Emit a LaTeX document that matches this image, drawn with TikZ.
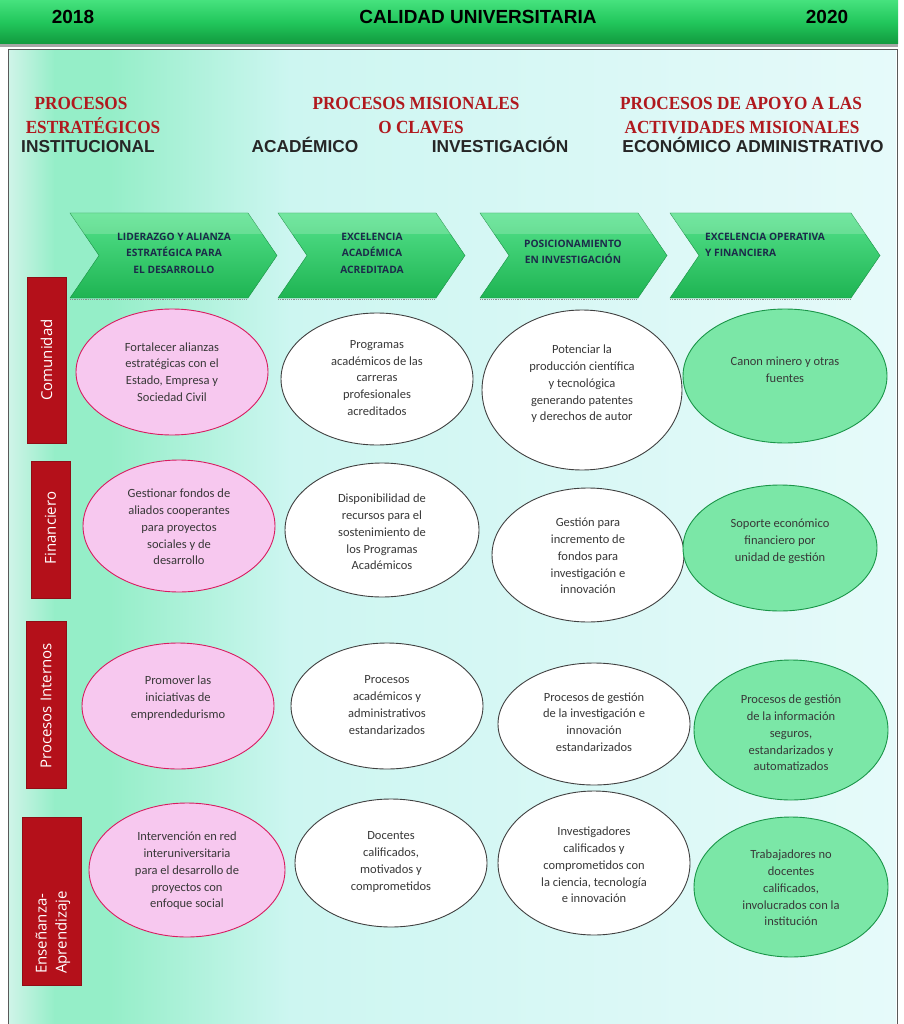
\documentclass[tikz,border=0pt]{standalone}
\usepackage{fontspec}
\setmainfont{Carlito}
\newfontfamily\hdrf{Liberation Sans}
\newfontfamily\redf[FakeStretch=0.93]{Liberation Serif}
\newfontfamily\barf{Open Sans}
\usetikzlibrary{shapes.geometric}
\definecolor{hdrTop}{HTML}{46E27E}
\definecolor{hdrMid}{HTML}{22C75C}
\definecolor{hdrBot}{HTML}{119A3E}
\definecolor{redhead}{HTML}{B0191E}
\definecolor{barred}{HTML}{B4101A}
\definecolor{pinkfill}{HTML}{F7C8EF}
\definecolor{pinkdraw}{HTML}{D81B60}
\definecolor{greenfill}{HTML}{7BE7A7}
\definecolor{greendraw}{HTML}{1A9548}
\definecolor{chevtop}{HTML}{55E28C}
\definecolor{chevbot}{HTML}{1EB452}
\definecolor{chevtext}{HTML}{1C2B4A}
\definecolor{bgA}{HTML}{CFF4E8}
\definecolor{bgB}{HTML}{95EEC8}
\definecolor{bgC}{HTML}{CDF6F1}
\definecolor{bgD}{HTML}{E6FAFA}
\tikzset{
  hdrtext/.style={font=\hdrf\bfseries\fontsize{19}{22}\selectfont, anchor=base, inner sep=0},
  redtext/.style={font=\redf\bfseries\fontsize{18.5}{22}\selectfont, text=redhead, anchor=base, inner sep=0},
  areatext/.style={font=\hdrf\bfseries\fontsize{17.3}{20}\selectfont, text=black!85, anchor=base, inner sep=0},
  chevshape/.style={top color=chevtop, bottom color=chevbot, draw=chevbot!80!black, line width=0.4},
  chevtextst/.style={font=\barf\bfseries\fontsize{10.2}{16.5}\selectfont, text=chevtext, align=center, inner sep=0},
  redbar/.style={fill=barred, draw=barred!80!black, line width=0.4},
  bartext/.style={font=\barf\fontsize{15}{20}\selectfont, text=white, rotate=90, inner sep=0},
  ell/.style={ellipse, inner sep=0, line width=0.9},
  pinkell/.style={ell, fill=pinkfill, draw=pinkdraw},
  whiteell/.style={ell, fill=white, draw=black!75},
  greenell/.style={ell, fill=greenfill, draw=greendraw},
  etext/.style={font=\fontsize{12.5}{16.8}\selectfont, text=black!78, align=center, inner sep=0},
}
\begin{document}
\begin{tikzpicture}[x=1pt, y=-1pt]
\useasboundingbox (0,0) rectangle (903,1024);
% background
\fill[white] (0,0) rectangle (903,1024);
\shade[left color=bgA, right color=bgB] (9,50) rectangle (55,1024);
\shade[left color=bgB, right color=bgB] (54.5,50) rectangle (110.5,1024);
\shade[left color=bgB, right color=bgC] (110,50) rectangle (290,1024);
\shade[left color=bgC, right color=bgD] (290,50) rectangle (896,1024);
\draw[black!65, line width=1] (8,1030) -- (8,50) -- (897,50) -- (897,1030);
% header bar
\shade[top color=hdrTop, bottom color=hdrBot, middle color=hdrMid] (0,0) rectangle (898,44);
\fill[black!35] (0,44) rectangle (898,47);
\node[hdrtext] (y1) at (73,24) {2018};
\node[hdrtext] (title) at (478,24) {CALIDAD UNIVERSITARIA};
\node[hdrtext] (y2) at (827,24) {2020};
% red headings
\node[redtext] (h1a) at (81,110) {PROCESOS};
\node[redtext] (h1b) at (93,134) {ESTRATÉGICOS};
\node[redtext] (h2a) at (416,110) {PROCESOS MISIONALES};
\node[redtext] (h2b) at (421,134) {O CLAVES};
\node[redtext] (h3a) at (741,110) {PROCESOS DE APOYO A LAS};
\node[redtext] (h3b) at (742,134) {ACTIVIDADES MISIONALES};
% area labels
\node[areatext] (a1) at (88,153) {INSTITUCIONAL};
\node[areatext] (a2) at (305,153) {ACADÉMICO};
\node[areatext] (a3) at (500,153) {INVESTIGACIÓN};
\node[areatext] (a4) at (753,153) {ECONÓMICO ADMINISTRATIVO};
% chevrons
\foreach \L/\R in {70/277, 278/465, 480/667, 670/880}{
  \draw[chevshape] (\L,213) -- ({\R-29},213) -- (\R,255.5) -- ({\R-29},298) -- (\L,298) -- ({\L+29},255.5) -- cycle;
  \fill[white, opacity=0.18] (\L,213) -- ({\R-29},213) -- ({\R-14},234) -- ({\L+14},234) -- cycle;
  \draw[black!45, densely dotted, line width=1.2] (\L,299.5) -- ({\R-29},299.5);
}
\node[chevtextst] (c1) at (174,253) {LIDERAZGO Y ALIANZA\\ESTRATÉGICA PARA\\EL DESARROLLO};
\node[chevtextst] (c2) at (372,253) {EXCELENCIA\\ACADÉMICA\\ACREDITADA};
\node[chevtextst] (c3) at (573,252) {POSICIONAMIENTO\\EN INVESTIGACIÓN};
\node[chevtextst, align=left, anchor=west] (c4) at (705,245) {EXCELENCIA OPERATIVA\\Y FINANCIERA};
% red bars
\draw[redbar] (27,277) rectangle (66,443);
\draw[redbar] (31,461) rectangle (70,598);
\draw[redbar] (26,621) rectangle (66,788);
\draw[redbar] (22,817) rectangle (81,985);
\node[bartext] (b1) at (46.5,360) {Comunidad};
\node[bartext] (b2) at (50.5,528) {Financiero};
\node[bartext] (b3) at (46,706) {Procesos Internos};
\node[bartext, align=left, anchor=west] (b4) at (53,974) {Enseñanza-\\Aprendizaje};
% ellipses column 1
\node[pinkell, minimum width=192, minimum height=126] (e11) at (172,372) {};
\node[pinkell, minimum width=192, minimum height=132] (e12) at (179,526) {};
\node[pinkell, minimum width=192, minimum height=126] (e13) at (178,706) {};
\node[pinkell, minimum width=196, minimum height=134] (e14) at (187,870) {};
% column 2
\node[whiteell, minimum width=192, minimum height=132] (e21) at (377,379) {};
\node[whiteell, minimum width=194, minimum height=134] (e22) at (382,530) {};
\node[whiteell, minimum width=192, minimum height=126] (e23) at (387,706) {};
\node[whiteell, minimum width=192, minimum height=128] (e24) at (391,863) {};
% column 3
\node[whiteell, minimum width=200, minimum height=160] (e31) at (582,390) {};
\node[whiteell, minimum width=192, minimum height=134] (e32) at (588,555) {};
\node[whiteell, minimum width=192, minimum height=122] (e33) at (594,724) {};
\node[whiteell, minimum width=192, minimum height=144] (e34) at (594,863) {};
% column 4
\node[greenell, minimum width=204, minimum height=134] (e41) at (785,376) {};
\node[greenell, minimum width=194, minimum height=126] (e42) at (780,548) {};
\node[greenell, minimum width=194, minimum height=140] (e43) at (791,730) {};
\node[greenell, minimum width=194, minimum height=140] (e44) at (791,887) {};
% ellipse texts
\node[etext] (t11) at (e11) {Fortalecer alianzas\\estratégicas con el\\Estado, Empresa y\\Sociedad Civil};
\node[etext] (t12) at (179,527) {Gestionar fondos de\\aliados cooperantes\\para proyectos\\sociales y de\\desarrollo};
\node[etext] (t13) at (178,698) {Promover las\\iniciativas de\\emprendedurismo};
\node[etext] (t14) at (187,871) {Intervención en red\\interuniversitaria\\para el desarrollo de\\proyectos con\\enfoque social};
\node[etext] (t21) at (377,378) {Programas\\académicos de las\\carreras\\profesionales\\acreditados};
\node[etext] (t22) at (382,532) {Disponibilidad de\\recursos para el\\sostenimiento de\\los Programas\\Académicos};
\node[etext] (t23) at (387,705) {Procesos\\académicos y\\administrativos\\estandarizados};
\node[etext] (t24) at (391,862) {Docentes\\calificados,\\motivados y\\comprometidos};
\node[etext] (t31) at (582,384) {Potenciar la\\producción científica\\y tecnológica\\generando patentes\\y derechos de autor};
\node[etext] (t32) at (588,556) {Gestión para\\incremento de\\fondos para\\investigación e\\innovación};
\node[etext] (t33) at (594,722) {Procesos de gestión\\de la investigación e\\innovación\\estandarizados};
\node[etext] (t34) at (594,865) {Investigadores\\calificados y\\comprometidos con\\la ciencia, tecnología\\e innovación};
\node[etext] (t41) at (785,370) {Canon minero y otras\\fuentes};
\node[etext] (t42) at (780,541) {Soporte económico\\financiero por\\unidad de gestión};
\node[etext] (t43) at (791,733) {Procesos de gestión\\de la información\\seguros,\\estandarizados y\\automatizados};
\node[etext] (t44) at (791,888) {Trabajadores no\\docentes\\calificados,\\involucrados con la\\institución};
\end{tikzpicture}
\end{document}
